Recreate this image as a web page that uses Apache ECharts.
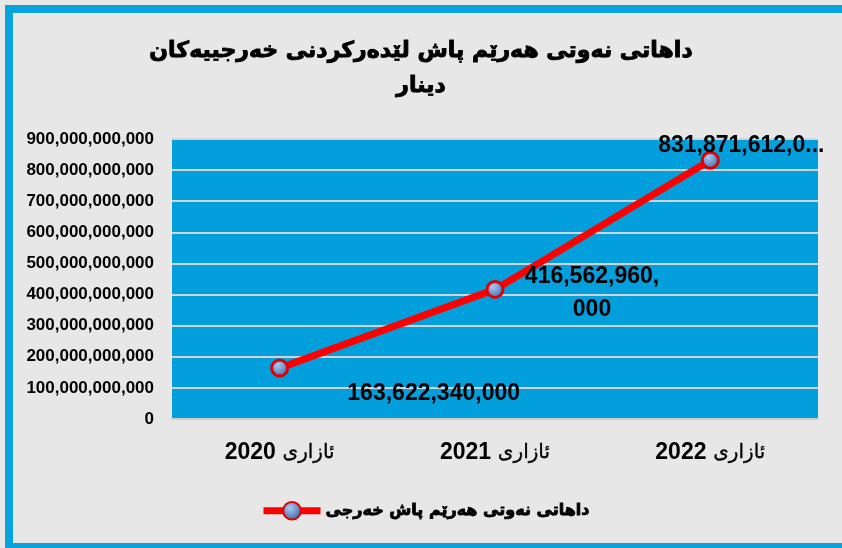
<!DOCTYPE html>
<html>
<head>
<meta charset="utf-8">
<script src="https://cdn.jsdelivr.net/npm/echarts@6/dist/echarts.min.js"></script>
<style>
  html,body{margin:0;padding:0;background:#e7e7e7;}
  #box{width:842px;height:548px;}
</style>
</head>
<body>
<div id="box"></div>
<script>
var years=['2020','2021','2022']
var yearWord='ئازاری'
var revenue=[163622340000,416562960000,831871612000]
var seriesName='داهاتی نەوتی هەرێم پاش خەرجی'
var titleText='داهاتی نەوتی هەرێم پاش لێدەرکردنی خەرجییەکان\nدینار'
// where each data label sits, relative to its point
var labelOffsets=[[154,26],[97,4],[31,-15]]

var fmt=function(v){
  return String(v).replace(/\B(?=(\d{3})+(?!\d))/g,',')
}

var mychart=echarts.init(document.getElementById('box'))

var markerColor={
  type:'radial',x:0.4,y:0.35,r:0.7,
  colorStops:[{offset:0,color:'#a9c8f0'},{offset:1,color:'#3566ad'}]
}

var option={
  backgroundColor:'#e7e7e7',
  title:{
    text:titleText,
    left:'center',
    top:29,
    textStyle:{
      fontFamily:'DejaVu Sans',
      fontWeight:'bold',
      fontSize:22,
      lineHeight:35,
      color:'#000',
      textBorderColor:'#000',
      textBorderWidth:0.9
    }
  },
  graphic:[
    {type:'rect',shape:{x:5,y:5,width:842,height:8},style:{fill:'#0aa2dd'},silent:true},
    {type:'rect',shape:{x:5,y:5,width:8,height:548},style:{fill:'#0aa2dd'},silent:true},
    {type:'rect',shape:{x:5,y:543,width:842,height:8},style:{fill:'#0aa2dd'},silent:true}
  ],
  legend:{
    top:496,
    left:255,
    itemWidth:57,
    itemHeight:22,
    lineStyle:{width:7},
    textStyle:{
      fontFamily:'DejaVu Sans',
      fontWeight:'bold',
      fontSize:16,
      color:'#000',
      textBorderColor:'#000',
      textBorderWidth:0.8
    },
    data:[seriesName]
  },
  grid:{
    left:172,
    right:24,
    top:139,
    bottom:129,
    show:true,
    backgroundColor:'#039fdc',
    borderWidth:0
  },
  xAxis:{
    type:'category',
    data:years,
    axisLine:{show:true,lineStyle:{color:'#cfcfcf',width:2}},
    axisTick:{show:false},
    axisLabel:{
      margin:22,
      formatter:function(v){
        return '{n|'+v+'}  {w|'+yearWord+'}'
      },
      rich:{
        n:{fontFamily:'Liberation Sans',fontWeight:'bold',fontSize:23,color:'#000'},
        w:{fontFamily:'DejaVu Sans',fontSize:20,color:'#000',textBorderColor:'#000',textBorderWidth:0.3}
      }
    }
  },
  yAxis:{
    type:'value',
    min:0,
    max:900000000000,
    interval:100000000000,
    axisLine:{show:false},
    axisTick:{show:false},
    splitLine:{lineStyle:{color:'#d3d3d3',width:2}},
    axisLabel:{
      margin:18,
      fontFamily:'Liberation Sans',
      fontWeight:'bold',
      fontSize:17,
      color:'#000',
      formatter:function(v){return fmt(v)}
    }
  },
  series:[{
    name:seriesName,
    type:'line',
    data:revenue.map(function(v,i){
      return {
        value:v,
        label:{offset:labelOffsets[i]}
      }
    }),
    symbol:'circle',
    symbolSize:16,
    lineStyle:{color:'#ff0000',width:7},
    itemStyle:{
      color:markerColor,
      borderColor:'#e00000',
      borderWidth:3
    },
    label:{
      show:true,
      position:'inside',
      align:'center',
      verticalAlign:'middle',
      fontFamily:'Liberation Sans',
      fontWeight:'bold',
      fontSize:23,
      lineHeight:33,
      color:'#000',
      formatter:function(p){
        var s=fmt(p.value)
        if(p.dataIndex==1){
          return s.slice(0,12)+'\n'+s.slice(12)
        }
        if(p.dataIndex==2){
          return s.slice(0,13)+'...'
        }
        return s
      }
    },
    z:3
  }]
}

mychart.setOption(option)
</script>
</body>
</html>
